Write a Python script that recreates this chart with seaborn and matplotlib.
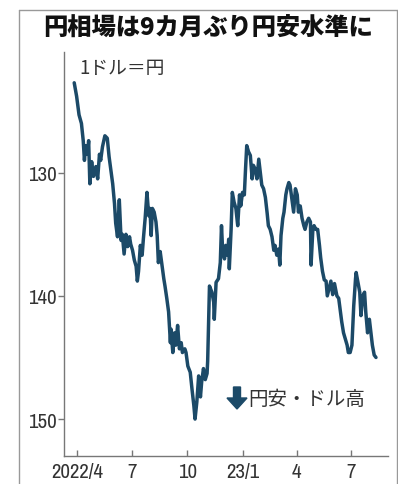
import numpy as np
import pandas as pd
import matplotlib
matplotlib.use("Agg")
import matplotlib.pyplot as plt
import seaborn as sns
from matplotlib import font_manager
from matplotlib.lines import Line2D
from matplotlib.patches import FancyArrow
from matplotlib.transforms import IdentityTransform

# ---- data ----
start_date = "2022-04-01"
day_offsets = [
    -5, -1, 3, 7, 10, 12, 14, 17, 19, 21, 24, 27, 31, 34, 37, 39, 42, 46, 50, 53,
    56, 59, 62, 64, 67, 70, 73, 75, 78, 81, 84, 87, 89, 92, 95, 98, 100, 102, 105, 108,
    110, 113, 116, 119, 121, 123, 125, 128, 131, 133, 135, 138, 141, 144, 146, 149, 152, 155, 156, 159,
    162, 164, 167, 170, 173, 175, 179, 181, 184, 188, 191, 194, 196, 199, 202, 205, 207, 210, 213, 216,
    217, 220, 224, 227, 228, 231, 235, 238, 240, 242, 245, 247, 250, 252, 253, 256, 258, 261, 264, 267,
    270, 272, 275, 278, 280, 282, 285, 288, 291, 293, 296, 299, 302, 305, 307, 310, 313, 316, 318, 321,
    324, 327, 329, 332, 335, 337, 339, 342, 344, 347, 349, 352, 354, 357, 360, 363, 366, 368, 371, 374,
    377, 379, 382, 385, 388, 389, 392, 394, 397, 400, 403, 405, 408, 411, 414, 416, 419, 422, 425, 428,
    432, 435, 438, 440, 443, 446, 449, 451, 454, 457, 460, 463, 464, 467, 470, 472, 475, 478, 480, 483,
    486, 489, 491, 494, 497,
]
yen_per_dollar = [
    122.7, 123.8, 125.3, 126.0, 127.4, 129.0, 127.8, 128.5, 127.4, 130.9, 129.1, 130.3, 129.5, 130.5, 128.5, 129.0, 127.9, 127.0, 127.2, 128.7,
    129.8, 130.9, 132.5, 134.1, 135.2, 132.2, 135.5, 135.0, 136.6, 135.0, 136.0, 135.2, 135.8, 136.3, 137.1, 137.6, 138.8, 138.0, 135.9, 136.7,
    135.4, 133.7, 131.6, 133.5, 132.9, 135.1, 132.9, 133.2, 134.0, 135.1, 137.3, 136.4, 137.5, 138.6, 139.2, 140.2, 141.3, 143.8, 142.7, 144.6,
    143.0, 144.0, 142.4, 144.3, 143.8, 144.6, 144.3, 144.6, 145.7, 146.2, 147.6, 148.9, 150.0, 148.6, 146.5, 148.2, 147.0, 145.9, 146.8, 146.3,
    145.3, 139.2, 139.7, 140.5, 141.9, 138.9, 138.6, 137.3, 134.3, 136.4, 137.0, 135.9, 136.7, 135.4, 137.8, 134.6, 131.6, 132.4, 132.9, 134.3,
    131.8, 132.7, 131.6, 131.8, 129.7, 127.8, 128.3, 128.6, 130.5, 129.4, 129.7, 130.5, 128.9, 130.2, 131.0, 131.3, 132.0, 133.3, 134.3, 134.6,
    135.2, 136.3, 135.9, 136.7, 136.2, 137.5, 135.1, 133.7, 133.2, 131.8, 131.3, 130.8, 131.0, 132.1, 133.2, 131.3, 131.8, 133.2, 132.7, 133.7,
    134.3, 134.6, 134.0, 133.7, 134.0, 137.5, 134.6, 134.3, 134.6, 134.6, 135.9, 136.9, 138.0, 138.7, 138.8, 140.0, 139.4, 138.8, 139.9, 139.0,
    140.0, 140.2, 141.3, 142.1, 143.0, 143.5, 144.0, 144.6, 144.6, 144.0, 140.8, 138.6, 138.1, 138.9, 139.7, 141.6, 140.0, 139.7, 141.3, 143.0,
    141.9, 143.2, 144.0, 144.8, 145.0,
]
tick_dates = ["2022-04-01", "2022-07-01", "2022-10-01", "2023-01-01", "2023-04-01", "2023-07-01"]
tick_labels = ["2022/4", "7", "10", "23/1", "4", "7"]
y_ticks = [130, 140, 150]
title = "円相場は9カ月ぶり円安水準に"
unit_label = "1ドル＝円"
note_label = "円安・ドル高"

df = pd.DataFrame({
    "date": pd.to_datetime(start_date) + pd.to_timedelta(day_offsets, unit="D"),
    "rate": yen_per_dollar,
})

# ---- style ----
sns.set_theme(style="white")
plt.rcParams["font.family"] = ["Noto Sans CJK JP", "DejaVu Sans"]

# narrow font for tick labels if one is installed
tick_kw = dict(fontfamily="DejaVu Sans", fontsize=12.5)
flist = font_manager.fontManager.ttflist
narrow = [f for f in flist if "Narrow" in f.name and "Bold" not in f.style]
cond = [f for f in flist if f.name == "DejaVu Sans" and f.stretch in ("condensed", 600 - 100, "semi-condensed")
        and f.weight in ("normal", 400, "regular", "book")]
if narrow:
    tick_kw = dict(fontfamily=narrow[0].name, fontsize=15)
elif cond:
    tick_kw = dict(fontfamily="DejaVu Sans", fontstretch="condensed", fontsize=14)

W, H = 398, 485
fig = plt.figure(figsize=(W / 100, H / 100), dpi=100)
fig.patch.set_facecolor("white")
ax = fig.add_axes([64 / W, 1 - 457 / H, (388 - 64) / W, (457 - 53) / H])

line_color = "#1c4a68"
sns.lineplot(data=df, x="date", y="rate", ax=ax, color=line_color, linewidth=2.5)

ax.set_ylim(153.0, 120.2)
ax.set_xlim(pd.Timestamp("2022-03-10"), pd.Timestamp("2023-08-31"))
ax.set_yticks(y_ticks)
ax.set_yticklabels([str(v) for v in y_ticks], color="#333333", **tick_kw)
ax.set_xticks(pd.to_datetime(tick_dates))
ax.set_xticklabels(tick_labels, color="#333333", **tick_kw)
ax.set_xlabel("")
ax.set_ylabel("")

for s in ["top", "right"]:
    ax.spines[s].set_visible(False)
for s in ["left", "bottom"]:
    ax.spines[s].set_color("#777777")
    ax.spines[s].set_linewidth(1.0)
ax.tick_params(axis="y", direction="out", length=4, width=1, color="#777777", pad=1, left=True)
ax.tick_params(axis="x", direction="in", length=4, width=1, color="#777777", pad=4, bottom=True)
ax.grid(False)

# outer frame
frame_kw = dict(color="#999999", linewidth=1.0, transform=fig.transFigure)
fig.add_artist(Line2D([18.5 / W, 18.5 / W], [0, 1 - 11 / H], **frame_kw))
fig.add_artist(Line2D([18.5 / W, 397 / W], [1 - 11 / H, 1 - 11 / H], **frame_kw))
fig.add_artist(Line2D([397 / W, 397 / W], [0, 1 - 11 / H], **frame_kw))

# texts
fig.text(208.5 / W, 1 - 29 / H, title, ha="center", va="center",
         fontsize=17.5, fontweight="heavy", color="#111111")
fig.text(79 / W, 1 - 69 / H, unit_label, ha="left", va="center",
         fontsize=13.5, color="#333333")
fig.text(248 / W, 1 - 400 / H, note_label, ha="left", va="center",
         fontsize=14, color="#333333")
arrow = FancyArrow(237, H - 388, 0, -22, width=7, head_width=20, head_length=11,
                   length_includes_head=True, color=line_color, transform=IdentityTransform())
fig.add_artist(arrow)

fig.savefig("out.png", dpi=100, facecolor="white")
